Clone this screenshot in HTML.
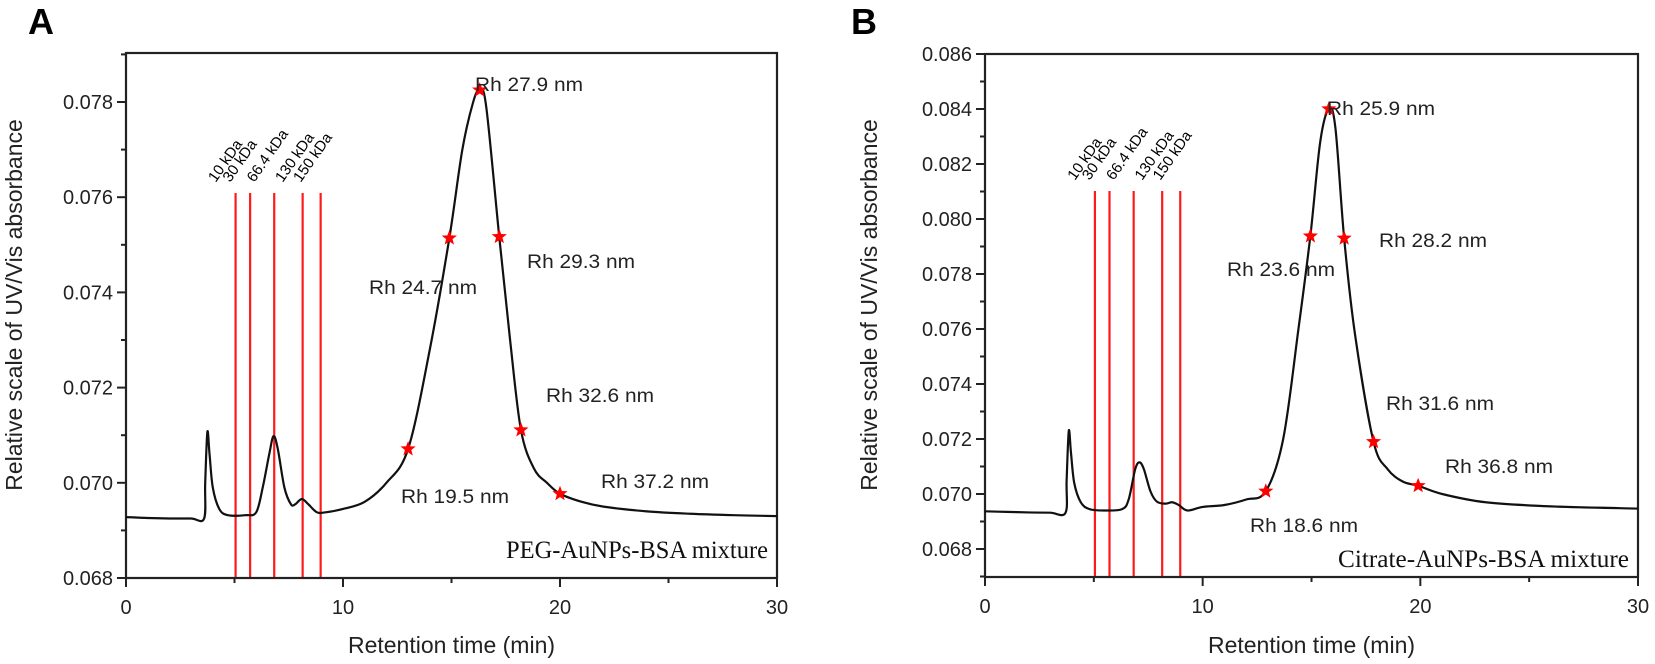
<!DOCTYPE html>
<html><head><meta charset="utf-8"><style>
html,body{margin:0;padding:0;background:#fff}
svg{display:block;font-family:"Liberation Sans",Arial,sans-serif}
</style></head><body>
<svg id="fig" width="1655" height="664" viewBox="0 0 1655 664" xmlns="http://www.w3.org/2000/svg">
</svg>
<script>
// ---------- Data ----------
const massLabels = ["10 kDa","30 kDa","66.4 kDa","130 kDa","150 kDa"];
const massTimes = [5.05,5.72,6.83,8.14,8.97];

const timesA = [0,1,2,3,3.6,3.65,3.75,3.85,4.0,4.3,4.7,5.5,6.0,6.3,6.6,6.8,7.0,7.3,7.6,7.8,8.1,8.4,8.8,9.2,10,11,12,13,14,14.9,15.5,16.0,16.3,16.6,17.2,17.7,18.2,18.8,19.4,20,21,22,24,26,28,30];
const valuesA = [0.06928,0.06926,0.06925,0.06925,0.06925,0.0700,0.07107,0.0706,0.0699,0.06945,0.06932,0.06932,0.06938,0.0699,0.0706,0.07098,0.0707,0.0699,0.06955,0.06955,0.06966,0.06955,0.06938,0.06938,0.06945,0.0696,0.0700,0.07071,0.0728,0.07514,0.0770,0.0780,0.07825,0.0779,0.07517,0.0730,0.07111,0.0703,0.0700,0.06977,0.0696,0.0695,0.0694,0.06935,0.06932,0.0693];
const starTimesA = [13.0,14.9,16.3,17.2,18.2,20.0];
const starValuesA = [0.07071,0.07514,0.07825,0.07517,0.07111,0.06977];
const rhLabelsA = ["Rh 19.5 nm","Rh 24.7 nm","Rh 27.9 nm","Rh 29.3 nm","Rh 32.6 nm","Rh 37.2 nm"];

const timesB = [0,1,2,3,3.7,3.75,3.85,3.95,4.1,4.4,4.8,5.5,6.3,6.6,6.9,7.1,7.3,7.6,7.9,8.3,8.6,8.9,9.3,10,11,12,12.9,13.7,14.4,14.95,15.4,15.8,16.1,16.5,17.0,17.85,18.5,19.2,19.9,21,23,26,30];
const valuesB = [0.06937,0.06935,0.06933,0.06932,0.06932,0.0705,0.0723,0.0715,0.0704,0.0697,0.06945,0.0694,0.06945,0.0698,0.0709,0.07115,0.0709,0.0701,0.06972,0.06965,0.0697,0.0696,0.0694,0.06953,0.0696,0.0698,0.0701,0.0720,0.0760,0.0794,0.0828,0.0840,0.0833,0.0793,0.0758,0.0719,0.0709,0.07045,0.0703,0.0700,0.0697,0.06955,0.06947];
const starTimesB = [12.9,14.95,15.8,16.5,17.85,19.9];
const starValuesB = [0.0701,0.07938,0.0840,0.0793,0.0719,0.0703];
const rhLabelsB = ["Rh 18.6 nm","Rh 23.6 nm","Rh 25.9 nm","Rh 28.2 nm","Rh 31.6 nm","Rh 36.8 nm"];

const xTicks = [0,10,20,30];
const yTicksA = [0.068,0.070,0.072,0.074,0.076,0.078];
const yTicksB = [0.068,0.070,0.072,0.074,0.076,0.078,0.080,0.082,0.084,0.086];

// ---------- Helpers ----------
const NS="http://www.w3.org/2000/svg";
const svg=document.getElementById('fig');
function mk(tag,attrs,parent){const e=document.createElementNS(NS,tag);for(const k in attrs)e.setAttribute(k,attrs[k]);(parent||svg).appendChild(e);return e;}
function smooth(pts){let d=`M${pts[0][0]},${pts[0][1]}`;for(let i=0;i<pts.length-1;i++){const p0=pts[i-1]||pts[i],p1=pts[i],p2=pts[i+1],p3=pts[i+2]||p2;const c1x=p1[0]+(p2[0]-p0[0])/6,c1y=p1[1]+(p2[1]-p0[1])/6,c2x=p2[0]-(p3[0]-p1[0])/6,c2y=p2[1]-(p3[1]-p1[1])/6;d+=` C${c1x.toFixed(2)},${c1y.toFixed(2)} ${c2x.toFixed(2)},${c2y.toFixed(2)} ${p2[0].toFixed(2)},${p2[1].toFixed(2)}`;}return d;}
function starPath(cx,cy,R){const r=R*0.42;let d="";for(let i=0;i<10;i++){const a=-Math.PI/2+i*Math.PI/5;const rr=i%2?r:R;d+=(i?"L":"M")+(cx+rr*Math.cos(a)).toFixed(2)+","+(cy+rr*Math.sin(a)).toFixed(2);}return d+"Z";}

function panel(cfg){
  const g=mk('g',{});
  
  
  const X=t=>cfg.x0+(t-0)*(cfg.x1-cfg.x0)/30;
  const Y=v=>cfg.yRef-(v-0.068)*cfg.ppu;
  // panel letter
  const L=mk('text',{x:cfg.letterX,y:34,'font-size':36,'font-weight':'bold',fill:'#000'},g);L.textContent=cfg.letter;
  
  
  // red marker lines
  massTimes.forEach((t,i)=>{
    const ln=mk('line',{x1:X(t),x2:X(t),y1:cfg.redTop,y2:cfg.bottom,stroke:'#ff1a1a','stroke-width':2.2},g);
    
    
    const tx=mk('text',{x:0,y:0,'font-size':15,fill:'#000',transform:`translate(${X(t)-20},${cfg.redTop-10}) rotate(-55)`},g);
    tx.textContent=massLabels[i];
    
    
  });
  // frame
  const fr=mk('rect',{x:cfg.x0,y:cfg.top,width:cfg.x1-cfg.x0,height:cfg.bottom-cfg.top,fill:'none',stroke:'#222','stroke-width':2.2},g);
  
  
  // y ticks
  cfg.yTicks.forEach((v,i)=>{
    const y=Y(v);
    const tk=mk('line',{x1:cfg.x0-9,x2:cfg.x0,y1:y,y2:y,stroke:'#222','stroke-width':2},g);
    
    
    const tl=mk('text',{x:cfg.x0-13,y:y+7,'font-size':20,'text-anchor':'end',fill:'#222'},g);
    tl.textContent=v.toFixed(3);
    
    
    if(i<cfg.yTicks.length-1||cfg.minorTop){
      const m=Y(v+0.001);
      if(m>=cfg.top-1){const mt=mk('line',{x1:cfg.x0-5,x2:cfg.x0,y1:m,y2:m,stroke:'#222','stroke-width':2},g);
      
      }
    }
  });
  if(cfg.minorBottom){const mb=mk('line',{x1:cfg.x0-5,x2:cfg.x0,y1:Y(0.067),y2:Y(0.067),stroke:'#222','stroke-width':2},g);}
  // x ticks
  xTicks.forEach((t,i)=>{
    const x=X(t);
    const tk=mk('line',{x1:x,x2:x,y1:cfg.bottom,y2:cfg.bottom+9,stroke:'#222','stroke-width':2},g);
    
    
    const tl=mk('text',{x:x,y:cfg.bottom+36,'font-size':20,'text-anchor':'middle',fill:'#222'},g);
    tl.textContent=String(t);
    
    
    if(i<xTicks.length-1){const mt=mk('line',{x1:X(t+5),x2:X(t+5),y1:cfg.bottom,y2:cfg.bottom+5,stroke:'#222','stroke-width':2},g);
    
    }
  });
  // axis titles
  const xt=mk('text',{x:(cfg.x0+cfg.x1)/2,y:653,'font-size':23,'text-anchor':'middle',fill:'#222'},g);
  xt.textContent='Retention time (min)';
  
  
  const yt=mk('text',{x:0,y:0,'font-size':23,'text-anchor':'middle',fill:'#222',transform:`translate(${cfg.yTitleX},${cfg.yTitleY}) rotate(-90)`},g);
  yt.textContent='Relative scale of UV/Vis absorbance';
  
  
  // curve
  const pts=cfg.times.map((t,i)=>[X(t),Y(cfg.values[i])]);
  const cv=mk('path',{d:smooth(pts),fill:'none',stroke:'#111','stroke-width':2.2,'stroke-linejoin':'round'},g);
  
  
  // stars
  cfg.starT.forEach((t,i)=>{
    const s=mk('path',{d:starPath(X(t),Y(cfg.starV[i]),8),fill:'#ff0000'},g);
    
    
  });
  // Rh labels
  cfg.rh.forEach((txt,i)=>{
    const p=cfg.rhPos[i];
    const t=mk('text',{x:p[0],y:p[1],'font-size':19,fill:'#222',textLength:108,lengthAdjust:'spacingAndGlyphs'},g);
    t.textContent=txt;
    
    
  });
  // mixture label
  const mx=mk('text',{x:cfg.mixX,y:cfg.mixY,'font-size':25,fill:'#111','font-family':'"Liberation Serif",serif',textLength:cfg.mixW,lengthAdjust:'spacingAndGlyphs'},g);
  mx.textContent=cfg.mix;
  
  
}

panel({name:'panel-a',letter:'A',letterX:28,x0:126,x1:777,yRef:578,ppu:47600,top:53,bottom:578,redTop:193,
  yTicks:yTicksA,minorTop:true,yTitleX:22,yTitleY:305,
  times:timesA,values:valuesA,starT:starTimesA,starV:starValuesA,rh:rhLabelsA,
  rhPos:[[401,503],[369,294],[475,91],[527,268],[546,402],[601,488]],
  mix:'PEG-AuNPs-BSA mixture',mixX:506,mixY:558,mixW:262});

panel({name:'panel-b',letter:'B',letterX:851,x0:985,x1:1638,yRef:549,ppu:27500,top:54,bottom:577,redTop:191,
  yTicks:yTicksB,minorTop:false,minorBottom:true,yTitleX:877,yTitleY:305,
  times:timesB,values:valuesB,starT:starTimesB,starV:starValuesB,rh:rhLabelsB,
  rhPos:[[1250,532],[1227,276],[1327,115],[1379,247],[1386,410],[1445,473]],
  mix:'Citrate-AuNPs-BSA mixture',mixX:1338,mixY:567,mixW:291});
</script>
</body></html>
